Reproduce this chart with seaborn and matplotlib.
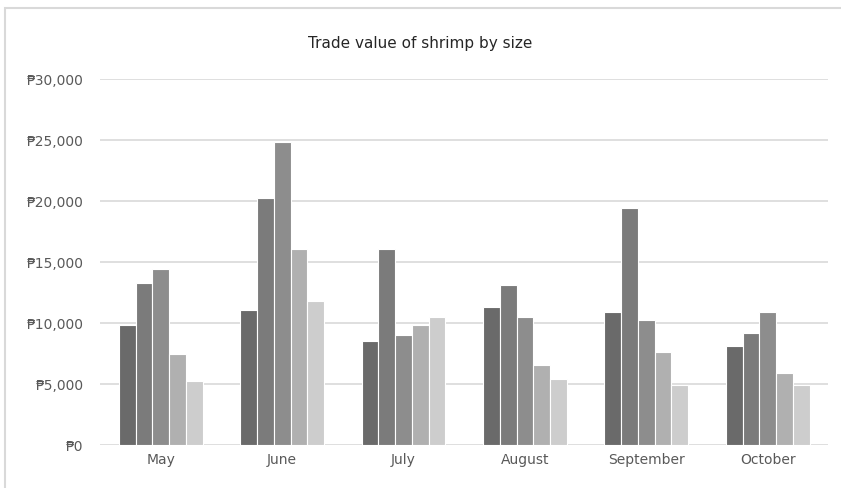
import matplotlib
matplotlib.use("Agg")
import matplotlib.pyplot as plt
import matplotlib.ticker as mticker
from matplotlib.patches import Rectangle
import pandas as pd
import seaborn as sns

months = ["May", "June", "July", "August", "September", "October"]
sizes = ["Size 1", "Size 2", "Size 3", "Size 4", "Size 5"]
size_1 = [9800, 11100, 8500, 11300, 10900, 8100]
size_2 = [13300, 20250, 16100, 13100, 19400, 9200]
size_3 = [14400, 24850, 9000, 10500, 10250, 10900]
size_4 = [7450, 16100, 9800, 6550, 7650, 5900]
size_5 = [5250, 11800, 10500, 5450, 4900, 4900]
y_ticks = [0, 5000, 10000, 15000, 20000, 25000, 30000]

rows = []
for name, vals in zip(sizes, [size_1, size_2, size_3, size_4, size_5]):
    for m, v in zip(months, vals):
        rows.append({"Month": m, "Size": name, "Value": v})
df = pd.DataFrame(rows)

palette = ["#6a6a6a", "#7b7b7b", "#8d8d8d", "#b0b0b0", "#cdcdcd"]

sns.set_theme(style="white")
plt.rcParams["font.family"] = ["DejaVu Sans"]

fig = plt.figure(figsize=(8.41, 4.88), dpi=100)
ax = fig.add_axes([0.119, 0.088, 0.866, 0.750])

sns.barplot(data=df, x="Month", y="Value", hue="Size", order=months,
            hue_order=sizes, palette=palette, width=0.69, gap=0.0,
            edgecolor="white", linewidth=0.8, saturation=1, ax=ax,
            legend=False)

ax.set_ylim(0, 30000)
ax.set_xlim(-0.5, 5.5)
ax.set_yticks(y_ticks)
ax.yaxis.set_major_formatter(mticker.FuncFormatter(lambda v, p: f"\u20b1{int(v):,}"))
ax.grid(axis="y", color="#d9d9d9", linewidth=1.2)
ax.set_axisbelow(True)
for s in ["top", "right", "left", "bottom"]:
    ax.spines[s].set_visible(False)
ax.tick_params(axis="both", length=0, labelsize=10, labelcolor="#595959")
ax.tick_params(axis="y", pad=12)
ax.tick_params(axis="x", pad=6)
ax.set_xlabel("")
ax.set_ylabel("")

fig.text(0.5, 0.91, "Trade value of shrimp by size", ha="center", va="center",
         fontsize=11, color="#262626")

fig.patches.append(Rectangle((0.006, -0.01), 1.0, 0.993, transform=fig.transFigure,
                             fill=False, edgecolor="#d9d9d9", linewidth=1.5))

fig.savefig("out.png", dpi=100)
